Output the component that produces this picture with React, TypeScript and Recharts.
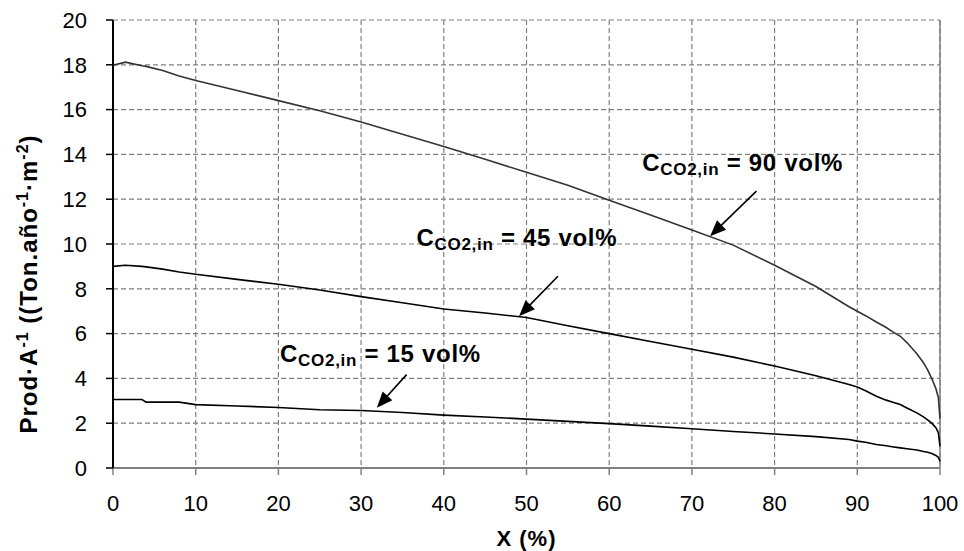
import React from 'react';
import { LineChart, Line, XAxis, YAxis, CartesianGrid, ReferenceLine, ReferenceDot, Label } from 'recharts';

const xValues = [0, 1.5, 3.5, 4, 6, 8, 10, 15, 20, 25, 30, 35, 40, 45, 50, 55, 60, 65, 70, 75, 80, 85, 89, 90, 91, 92.3, 93.5, 94.2, 95.2, 96, 97.2, 98, 98.5, 99, 99.5, 99.8, 100];
const series90 = [17.98, 18.12, 17.96, 17.93, 17.75, 17.5, 17.3, 16.85, 16.4, 15.95, 15.45, 14.9, 14.35, 13.78, 13.2, 12.62, 11.95, 11.3, 10.62, 9.95, 9.05, 8.1, 7.2, 7.0, 6.8, 6.52, 6.27, 6.1, 5.88, 5.6, 5.1, 4.7, 4.38, 4.0, 3.55, 3.15, 2.2];
const series45 = [9.0, 9.05, 9.0, 8.98, 8.88, 8.75, 8.65, 8.42, 8.2, 7.95, 7.65, 7.38, 7.1, 6.92, 6.72, 6.35, 6.0, 5.65, 5.3, 4.95, 4.55, 4.12, 3.73, 3.62, 3.45, 3.2, 3.03, 2.95, 2.83, 2.68, 2.46, 2.28, 2.15, 2.0, 1.8, 1.58, 0.97];
const series15 = [3.06, 3.06, 3.06, 2.94, 2.94, 2.94, 2.83, 2.77, 2.7, 2.6, 2.57, 2.48, 2.36, 2.28, 2.18, 2.08, 1.98, 1.87, 1.75, 1.63, 1.52, 1.4, 1.27, 1.2, 1.15, 1.05, 0.99, 0.95, 0.9, 0.86, 0.8, 0.74, 0.7, 0.65, 0.56, 0.48, 0.3];

const xTicks = [0, 10, 20, 30, 40, 50, 60, 70, 80, 90, 100];
const yTicks = [0, 2, 4, 6, 8, 10, 12, 14, 16, 18, 20];

const labelTexts = ['90 vol%', '45 vol%', '15 vol%'];
const labelAnchors = [
  { x: 64.0, y: 13.25 },
  { x: 36.7, y: 9.9 },
  { x: 20.2, y: 4.71 },
];
const arrowSegments = [
  [{ x: 77.8, y: 12.36 }, { x: 72.2, y: 10.35 }],
  [{ x: 53.8, y: 8.56 }, { x: 49.1, y: 6.78 }],
  [{ x: 35.5, y: 4.17 }, { x: 31.9, y: 2.69 }],
];

const data = xValues.map((x, i) => ({ x, s90: series90[i], s45: series45[i], s15: series15[i] }));

const FONT = 'Liberation Sans, Arial, sans-serif';

const ArrowShape = (props: any) => {
  const { x1, y1, x2, y2 } = props;
  if ([x1, y1, x2, y2].some((v) => typeof v !== 'number' || isNaN(v))) return null;
  const dx = x2 - x1;
  const dy = y2 - y1;
  const len = Math.sqrt(dx * dx + dy * dy) || 1;
  const ux = dx / len;
  const uy = dy / len;
  const headLen = 16;
  const headHalf = 6.5;
  const bx = x2 - ux * headLen;
  const by = y2 - uy * headLen;
  const px = -uy;
  const py = ux;
  return (
    <g>
      <line x1={x1} y1={y1} x2={bx + ux * 2} y2={by + uy * 2} stroke="#000" strokeWidth={1.6} />
      <polygon
        points={`${x2},${y2} ${bx + px * headHalf},${by + py * headHalf} ${bx - px * headHalf},${by - py * headHalf}`}
        fill="#000"
      />
    </g>
  );
};

const makeTextShape = (txt: string) => (props: any) => {
  const { cx, cy } = props;
  if (typeof cx !== 'number' || typeof cy !== 'number') return null;
  return (
    <text x={cx} y={cy} fontFamily={FONT} fontWeight="bold" fontSize={24} fill="#000" letterSpacing={0.7}>
      C
      <tspan fontSize={17} dy={4}>CO2,in</tspan>
      <tspan fontSize={24} dy={-4}>{' = ' + txt}</tspan>
    </text>
  );
};

const YTitle = (props: any) => {
  const bx = 37;
  const by = 284;
  return (
    <text
      x={bx}
      y={by}
      transform={`rotate(-90, ${bx}, ${by})`}
      textAnchor="middle"
      fontFamily={FONT}
      fontWeight="bold"
      fontSize={24}
      letterSpacing={1}
      fill="#000"
    >
      Prod·A
      <tspan fontSize={16} dy={-9}>-1</tspan>
      <tspan fontSize={24} dy={9}> ((Ton.año</tspan>
      <tspan fontSize={16} dy={-9}>-1</tspan>
      <tspan fontSize={24} dy={9}>·m</tspan>
      <tspan fontSize={16} dy={-9}>-2</tspan>
      <tspan fontSize={24} dy={9}>)</tspan>
    </text>
  );
};

const XTitle = (props: any) => {
  const vb = props.viewBox || {};
  const cx = (vb.x ?? 113) + (vb.width ?? 827) / 2;
  return (
    <text x={cx} y={546} textAnchor="middle" fontFamily={FONT} fontWeight="bold" fontSize={22} letterSpacing={1} fill="#000">
      X (%)
    </text>
  );
};

export default function App() {
  return (
    <div style={{ position: 'absolute', left: 0, top: 0, width: 964, height: 551, background: '#fff' }}>
      <LineChart width={964} height={551} data={data} margin={{ top: 20, right: 24, left: 0, bottom: 0 }}>
        <CartesianGrid stroke="#808080" strokeDasharray="5 3" strokeWidth={1.2} />
        <XAxis
          dataKey="x"
          type="number"
          domain={[0, 100]}
          ticks={xTicks}
          height={83}
          tickSize={7}
          tickMargin={20}
          axisLine={{ stroke: '#808080', strokeWidth: 2 }}
          tickLine={{ stroke: '#808080', strokeWidth: 1.5 }}
          tick={{ fill: '#000', fontSize: 22, fontFamily: FONT }}
          interval={0}
        >
          <Label content={<XTitle />} />
        </XAxis>
        <YAxis
          type="number"
          domain={[0, 20]}
          ticks={yTicks}
          width={113}
          tickSize={7}
          tickMargin={19}
          axisLine={{ stroke: '#000', strokeWidth: 2 }}
          tickLine={{ stroke: '#000', strokeWidth: 1.5 }}
          tick={{ fill: '#000', fontSize: 22, fontFamily: FONT }}
          interval={0}
        >
          <Label content={<YTitle />} />
        </YAxis>
        <ReferenceLine x={100} stroke="#808080" strokeWidth={1.5} />
        <Line type="linear" dataKey="s90" stroke="#333" strokeWidth={1.6} dot={false} isAnimationActive={false} />
        <Line type="linear" dataKey="s45" stroke="#000" strokeWidth={1.6} dot={false} isAnimationActive={false} />
        <Line type="linear" dataKey="s15" stroke="#000" strokeWidth={1.6} dot={false} isAnimationActive={false} />
        {arrowSegments.map((seg, i) => (
          <ReferenceLine key={'a' + i} segment={seg} shape={ArrowShape} />
        ))}
        {labelAnchors.map((p, i) => (
          <ReferenceDot key={'t' + i} x={p.x} y={p.y} r={0} shape={makeTextShape(labelTexts[i])} />
        ))}
      </LineChart>
    </div>
  );
}
